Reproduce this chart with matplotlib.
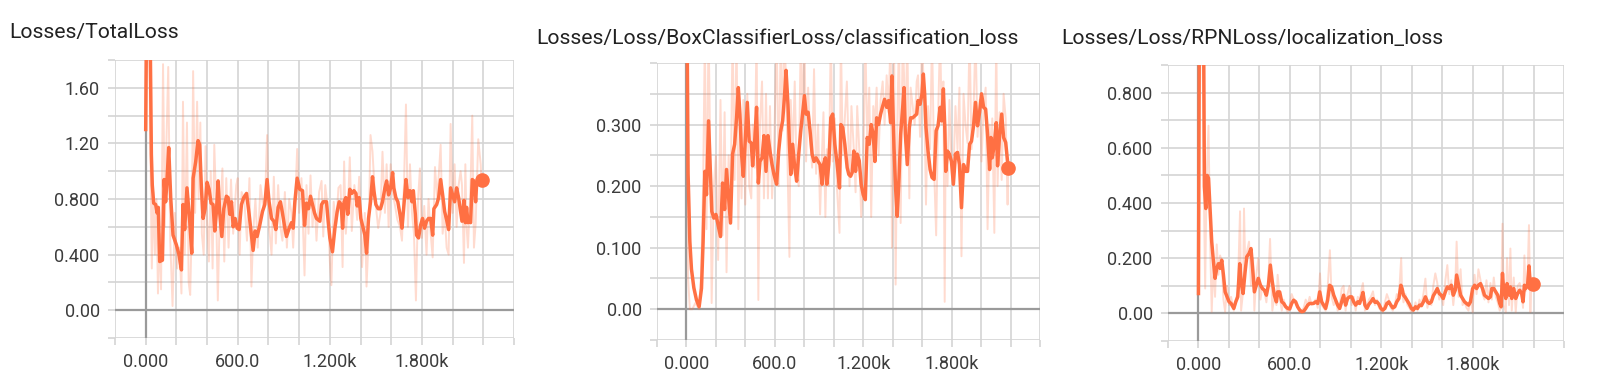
import matplotlib
matplotlib.use('Agg')

import matplotlib.pyplot as plt
from matplotlib.ticker import FixedLocator, FixedFormatter
import numpy as np

plt.rcParams['font.family'] = ['Roboto', 'DejaVu Sans']

#-- data (step, value) --#
total_smooth = [(0,1.30),(9,2.60),(22,2.20),(30,1.90),(37,1.12),(43,0.90),(52,0.77),(65,0.76),(74,0.70),(82,0.74),
    (91,0.35),(109,0.36),(120,0.94),(130,0.78),(139,0.94),(150,1.17),(163,0.81),(178,0.54),(200,0.47),(217,0.40),
    (233,0.29),(243,0.76),(254,0.58),(269,0.88),(287,0.64),(300,0.41),(309,0.95),(326,1.07),(341,1.22),(352,1.19),
    (363,0.88),(374,0.66),(387,0.73),(400,0.92),(413,0.87),(426,0.77),(439,0.76),(450,0.57),(461,0.71),(472,0.93),
    (483,0.69),(496,0.53),(509,0.73),(526,0.82),(537,0.81),(548,0.69),(559,0.78),(570,0.60),(583,0.66),(596,0.59),
    (609,0.58),(624,0.76),(639,0.81),(657,0.84),(674,0.69),(689,0.54),(700,0.43),(713,0.57),(726,0.53),(743,0.61),
    (761,0.71),(776,0.76),(791,0.94),(804,0.78),(820,0.66),(835,0.64),(848,0.58),(863,0.74),(878,0.78),(891,0.70),
    (907,0.59),(917,0.53),(935,0.59),(950,0.63),(961,0.59),(972,0.78),(987,0.95),(1004,0.87),(1022,0.86),(1035,0.61),
    (1048,0.77),(1061,0.73),(1074,0.82),(1087,0.76),(1100,0.70),(1113,0.66),(1135,0.64),(1146,0.76),(1157,0.78),(1178,0.78),
    (1189,0.64),(1200,0.52),(1217,0.42),(1233,0.59),(1248,0.71),(1261,0.78),(1274,0.76),(1283,0.59),(1293,0.78),(1304,0.81),
    (1317,0.69),(1330,0.87),(1343,0.84),(1357,0.86),(1370,0.84),(1378,0.75),(1391,0.81),(1402,0.66),(1417,0.59),(1428,0.54),
    (1439,0.41),(1452,0.66),(1465,0.78),(1478,0.96),(1487,0.86),(1500,0.76),(1515,0.73),(1530,0.73),(1543,0.78),(1559,0.88),
    (1570,0.93),(1583,0.83),(1596,0.88),(1609,0.99),(1617,0.88),(1630,0.81),(1643,0.78),(1657,0.69),(1670,0.59),(1683,0.76),
    (1696,0.94),(1709,0.81),(1722,0.86),(1735,0.78),(1744,0.86),(1757,0.69),(1765,0.54),(1778,0.52),(1791,0.61),(1804,0.66),
    (1817,0.59),(1830,0.64),(1843,0.66),(1857,0.66),(1870,0.54),(1878,0.73),(1896,0.76),(1909,0.81),(1922,0.94),(1935,0.83),
    (1948,0.71),(1961,0.65),(1974,0.58),(1987,0.88),(2000,0.83),(2013,0.78),(2026,0.88),(2039,0.81),(2052,0.71),(2061,0.64),
    (2074,0.79),(2083,0.63),(2091,0.74),(2100,0.63),(2109,0.64),(2117,0.63),(2128,0.94),(2139,0.93),(2150,0.78),(2157,0.92),
    (2167,0.93),(2183,0.94),(2189,0.94)]

total_raw = [(0,1.30),(10,3.0),(20,2.4),(30,1.2),(40,0.30),(50,0.85),(60,0.40),(70,0.80),(80,0.12),(90,0.55),
    (100,0.15),(113,1.77),(125,0.60),(135,1.20),(147,1.75),(160,0.50),(175,0.03),(190,0.70),(205,0.30),(220,0.45),
    (233,0.12),(243,1.50),(255,0.40),(269,1.35),(280,0.20),(290,0.11),(300,0.60),(309,1.72),(322,0.70),(335,1.50),
    (345,0.80),(356,1.35),(366,0.55),(378,0.40),(390,1.18),(400,0.65),(412,0.35),(424,1.00),(436,0.30),(447,1.19),
    (458,0.80),(470,0.07),(481,0.60),(500,1.02),(512,0.35),(525,0.95),(540,0.45),(556,0.94),(570,0.55),(590,0.90),
    (600,0.95),(612,0.40),(625,0.85),(642,0.80),(660,0.50),(676,0.95),(689,0.17),(700,0.55),(715,0.80),(730,0.45),
    (748,0.90),(765,0.75),(778,0.80),(791,1.26),(804,0.60),(820,0.40),(835,0.96),(848,0.48),(863,0.90),(878,0.60),
    (891,0.50),(907,0.85),(920,0.45),(935,0.80),(950,0.70),(961,0.45),(975,0.80),(987,1.16),(1000,0.70),(1015,0.95),
    (1035,0.25),(1048,0.90),(1061,0.55),(1074,0.97),(1087,0.60),(1100,0.80),(1113,0.50),(1130,0.85),(1146,0.93),(1157,0.53),
    (1170,0.90),(1189,0.70),(1200,0.35),(1210,0.18),(1225,0.78),(1240,0.60),(1256,0.88),(1270,0.90),(1283,0.31),(1293,1.07),
    (1304,0.55),(1320,0.80),(1330,1.10),(1343,0.57),(1360,0.90),(1378,0.65),(1391,0.96),(1410,0.31),(1428,0.70),(1439,0.17),
    (1452,0.50),(1465,1.26),(1478,1.14),(1495,0.80),(1515,0.59),(1530,0.70),(1543,1.14),(1559,0.70),(1570,1.05),(1583,0.60),
    (1596,1.05),(1609,0.85),(1625,0.75),(1640,0.65),(1657,0.60),(1670,0.50),(1683,0.90),(1696,1.48),(1709,0.60),(1722,1.05),
    (1735,0.70),(1748,0.55),(1761,0.07),(1775,0.80),(1787,1.02),(1800,0.52),(1815,0.75),(1830,0.40),(1843,0.80),(1857,0.55),
    (1870,0.38),(1885,1.03),(1900,0.80),(1922,1.19),(1935,0.55),(1948,0.70),(1961,0.45),(1974,0.40),(1987,1.34),(2000,0.70),
    (2013,1.05),(2026,0.60),(2039,0.90),(2052,1.00),(2061,0.90),(2074,0.34),(2083,1.05),(2091,0.60),(2100,0.45),(2117,0.90),
    (2128,1.40),(2139,0.45),(2150,0.62),(2167,1.23),(2183,1.05),(2189,0.90)]

cls_smooth = [(0,0.62),(11,0.22),(23,0.11),(34,0.065),(50,0.035),(68,0.015),(86,0.004),(102,0.034),(113,0.11),(125,0.224),
    (136,0.186),(150,0.306),(159,0.246),(172,0.159),(186,0.148),(200,0.154),(215,0.137),(231,0.118),(245,0.205),(259,0.162),
    (272,0.227),(286,0.181),(299,0.14),(313,0.252),(327,0.268),(340,0.311),(352,0.36),(363,0.317),(374,0.252),(386,0.216),
    (399,0.273),(413,0.336),(426,0.273),(440,0.27),(449,0.233),(463,0.273),(476,0.328),(488,0.205),(499,0.24),(513,0.246),
    (526,0.282),(540,0.224),(553,0.282),(567,0.257),(581,0.235),(594,0.219),(612,0.203),(626,0.257),(640,0.29),(653,0.306),
    (665,0.344),(676,0.388),(689,0.333),(699,0.268),(708,0.219),(721,0.268),(735,0.23),(748,0.208),(762,0.252),(776,0.29),
    (789,0.32),(801,0.347),(812,0.317),(826,0.32),(839,0.29),(853,0.252),(866,0.24),(880,0.246),(894,0.24),(907,0.235),
    (921,0.203),(930,0.235),(943,0.246),(953,0.203),(966,0.235),(980,0.311),(993,0.317),(1007,0.268),(1021,0.24),(1039,0.197),
    (1048,0.30),(1061,0.295),(1075,0.268),(1091,0.23),(1102,0.219),(1114,0.216),(1125,0.222),(1136,0.257),(1148,0.224),(1159,0.252),
    (1173,0.241),(1186,0.203),(1200,0.186),(1214,0.178),(1227,0.279),(1241,0.268),(1254,0.30),(1268,0.284),(1279,0.24),(1291,0.311),
    (1304,0.30),(1318,0.317),(1332,0.33),(1345,0.341),(1359,0.328),(1372,0.339),(1386,0.303),(1395,0.379),(1409,0.262),(1420,0.195),
    (1431,0.151),(1443,0.214),(1454,0.284),(1468,0.328),(1477,0.36),(1486,0.284),(1499,0.235),(1513,0.295),(1522,0.311),(1536,0.311),
    (1549,0.314),(1563,0.317),(1572,0.339),(1586,0.333),(1599,0.35),(1608,0.382),(1617,0.35),(1626,0.295),(1640,0.257),(1654,0.227),
    (1667,0.214),(1681,0.211),(1695,0.29),(1708,0.298),(1722,0.328),(1733,0.306),(1744,0.358),(1753,0.30),(1760,0.224),(1772,0.257),
    (1785,0.252),(1799,0.24),(1812,0.203),(1826,0.252),(1840,0.255),(1853,0.235),(1867,0.165),(1881,0.235),(1894,0.224),(1908,0.224),
    (1922,0.268),(1935,0.273),(1949,0.298),(1962,0.336),(1976,0.298),(1990,0.32),(2003,0.35),(2017,0.328),(2031,0.325),(2044,0.284),
    (2058,0.227),(2067,0.279),(2076,0.246),(2090,0.268),(2103,0.303),(2112,0.233),(2126,0.284),(2140,0.317),(2153,0.279),(2167,0.271),
    (2184,0.23)]

cls_raw = [(0,0.70),(11,0.05),(23,0.0),(40,0.0),(60,0.01),(86,0.0),(100,0.06),(113,0.20),(125,0.45),(136,0.13),
    (150,0.46),(160,0.28),(171,0.01),(186,0.20),(200,0.25),(215,0.08),(231,0.34),(245,0.12),(259,0.32),(272,0.06),
    (286,0.25),(299,0.17),(313,0.45),(327,0.21),(340,0.45),(352,0.13),(363,0.29),(374,0.18),(386,0.34),(399,0.17),
    (413,0.35),(426,0.20),(440,0.18),(449,0.30),(463,0.23),(476,0.45),(488,0.015),(499,0.30),(513,0.37),(526,0.18),
    (540,0.35),(553,0.18),(567,0.33),(581,0.18),(594,0.25),(612,0.45),(626,0.20),(640,0.45),(653,0.29),(665,0.45),
    (676,0.37),(689,0.20),(699,0.085),(708,0.34),(721,0.25),(735,0.37),(748,0.22),(762,0.20),(776,0.45),(789,0.30),
    (801,0.45),(812,0.24),(826,0.36),(839,0.28),(853,0.23),(866,0.39),(880,0.22),(894,0.30),(907,0.154),(921,0.26),
    (930,0.32),(943,0.15),(953,0.26),(966,0.20),(980,0.45),(993,0.24),(1007,0.31),(1021,0.20),(1039,0.124),(1048,0.45),
    (1061,0.25),(1075,0.31),(1089,0.37),(1107,0.20),(1120,0.33),(1136,0.26),(1148,0.19),(1159,0.33),(1173,0.26),(1186,0.15),
    (1200,0.22),(1214,0.45),(1227,0.27),(1241,0.36),(1254,0.15),(1268,0.33),(1279,0.30),(1291,0.36),(1304,0.25),(1318,0.34),
    (1332,0.37),(1345,0.30),(1359,0.38),(1372,0.32),(1386,0.45),(1395,0.10),(1409,0.45),(1420,0.04),(1431,0.30),(1443,0.45),
    (1454,0.14),(1468,0.45),(1477,0.38),(1486,0.27),(1499,0.45),(1513,0.18),(1522,0.36),(1536,0.33),(1549,0.30),(1563,0.37),
    (1572,0.38),(1586,0.28),(1599,0.45),(1608,0.38),(1617,0.30),(1626,0.17),(1640,0.33),(1654,0.26),(1667,0.45),(1681,0.23),
    (1695,0.12),(1708,0.31),(1722,0.45),(1733,0.30),(1744,0.37),(1753,0.012),(1760,0.30),(1772,0.20),(1785,0.34),(1799,0.24),
    (1812,0.22),(1826,0.33),(1840,0.26),(1853,0.36),(1867,0.086),(1881,0.35),(1894,0.30),(1908,0.27),(1922,0.45),(1935,0.26),
    (1949,0.32),(1962,0.45),(1976,0.28),(1990,0.34),(2003,0.24),(2017,0.33),(2031,0.36),(2044,0.13),(2058,0.30),(2067,0.23),
    (2076,0.31),(2090,0.124),(2103,0.45),(2112,0.20),(2126,0.32),(2140,0.21),(2153,0.35),(2167,0.31),(2180,0.17),(2184,0.23)]

rpn_smooth = [(0,0.072),(8,1.4),(20,1.2),(35,0.90),(39,0.46),(48,0.38),(57,0.50),(66,0.49),(77,0.37),(87,0.26),
    (98,0.19),(109,0.127),(120,0.163),(131,0.18),(142,0.163),(153,0.193),(164,0.139),(175,0.078),(188,0.06),(201,0.042),
    (214,0.036),(232,0.018),(245,0.042),(258,0.06),(271,0.18),(280,0.114),(293,0.072),(306,0.15),(317,0.205),(332,0.217),
    (345,0.235),(359,0.139),(367,0.078),(380,0.102),(393,0.127),(407,0.102),(420,0.09),(433,0.084),(446,0.066),(459,0.102),
    (472,0.175),(485,0.114),(498,0.066),(512,0.042),(520,0.078),(533,0.078),(547,0.042),(560,0.036),(573,0.024),(586,0.018),
    (599,0.016),(612,0.036),(625,0.048),(638,0.042),(651,0.024),(665,0.012),(678,0.006),(691,0.008),(704,0.018),(717,0.03),
    (730,0.036),(743,0.036),(756,0.036),(769,0.042),(783,0.036),(796,0.078),(809,0.042),(822,0.03),(835,0.018),(848,0.048),
    (861,0.102),(874,0.096),(888,0.066),(901,0.048),(914,0.03),(927,0.018),(940,0.042),(953,0.066),(966,0.03),(979,0.054),
    (992,0.06),(1006,0.06),(1019,0.042),(1032,0.03),(1046,0.042),(1058,0.036),(1072,0.06),(1080,0.076),(1093,0.03),(1106,0.018),
    (1119,0.033),(1132,0.042),(1146,0.054),(1159,0.04),(1172,0.042),(1185,0.033),(1198,0.018),(1211,0.012),(1224,0.018),(1237,0.036),
    (1250,0.042),(1263,0.03),(1276,0.02),(1289,0.024),(1302,0.042),(1316,0.054),(1329,0.102),(1337,0.09),(1346,0.066),(1359,0.057),
    (1372,0.045),(1385,0.033),(1398,0.018),(1411,0.012),(1425,0.024),(1438,0.018),(1451,0.03),(1464,0.028),(1477,0.042),(1490,0.06),
    (1503,0.042),(1516,0.036),(1529,0.042),(1542,0.064),(1555,0.076),(1568,0.09),(1581,0.072),(1594,0.066),(1607,0.054),(1621,0.078),
    (1634,0.096),(1647,0.09),(1660,0.102),(1673,0.066),(1686,0.084),(1695,0.139),(1708,0.102),(1721,0.066),(1734,0.054),(1747,0.042),
    (1760,0.036),(1773,0.03),(1786,0.042),(1800,0.09),(1813,0.102),(1826,0.09),(1838,0.102),(1852,0.108),(1865,0.09),(1878,0.066),
    (1891,0.06),(1904,0.054),(1917,0.06),(1926,0.09),(1939,0.09),(1952,0.078),(1965,0.066),(1978,0.036),(1987,0.024),(1996,0.145),
    (2004,0.084),(2018,0.054),(2026,0.108),(2039,0.066),(2048,0.096),(2057,0.054),(2070,0.09),(2083,0.054),(2096,0.072),(2109,0.084),
    (2122,0.072),(2131,0.042),(2140,0.102),(2148,0.09),(2161,0.102),(2170,0.172),(2179,0.102),(2187,0.114),(2196,0.105)]

rpn_raw = [(0,0.072),(8,1.6),(18,1.2),(27,0.95),(35,0.45),(44,0.09),(53,0.48),(66,0.68),(77,0.25),(87,0.006),
    (98,0.18),(109,0.06),(120,0.25),(131,0.14),(142,0.21),(153,0.19),(164,0.05),(175,0.006),(188,0.10),(201,0.03),
    (214,0.06),(232,0.01),(245,0.05),(258,0.08),(273,0.37),(280,0.01),(293,0.08),(299,0.38),(306,0.20),(317,0.22),
    (332,0.26),(345,0.10),(359,0.20),(367,0.01),(380,0.14),(393,0.20),(407,0.05),(420,0.10),(433,0.08),(446,0.04),
    (459,0.12),(470,0.27),(485,0.01),(498,0.06),(512,0.03),(520,0.14),(533,0.06),(547,0.01),(560,0.05),(573,0.02),
    (586,0.005),(599,0.03),(612,0.07),(625,0.05),(638,0.04),(651,0.02),(665,0.005),(678,0.01),(691,0.02),(704,0.05),
    (717,0.03),(730,0.06),(743,0.03),(756,0.04),(769,0.05),(783,0.02),(798,0.145),(809,0.03),(822,0.02),(835,0.01),
    (848,0.09),(863,0.229),(874,0.06),(888,0.03),(901,0.05),(914,0.01),(927,0.02),(940,0.09),(953,0.10),(966,0.01),
    (979,0.07),(992,0.10),(1006,0.03),(1019,0.06),(1032,0.01),(1046,0.06),(1058,0.05),(1072,0.09),(1080,0.11),(1093,0.01),
    (1106,0.02),(1119,0.05),(1132,0.06),(1146,0.08),(1159,0.03),(1172,0.05),(1185,0.02),(1198,0.01),(1211,0.005),(1224,0.04),
    (1237,0.07),(1250,0.05),(1263,0.02),(1276,0.01),(1289,0.03),(1302,0.07),(1316,0.06),(1331,0.20),(1337,0.08),(1346,0.04),
    (1359,0.07),(1372,0.03),(1385,0.02),(1398,0.005),(1411,0.01),(1425,0.04),(1438,0.01),(1451,0.05),(1464,0.03),(1477,0.07),
    (1490,0.126),(1503,0.02),(1516,0.05),(1529,0.03),(1542,0.10),(1555,0.145),(1568,0.11),(1581,0.05),(1594,0.07),(1607,0.03),
    (1621,0.12),(1634,0.175),(1647,0.07),(1660,0.12),(1673,0.03),(1686,0.10),(1695,0.26),(1708,0.06),(1721,0.16),(1734,0.03),
    (1747,0.04),(1760,0.02),(1773,0.01),(1786,0.06),(1800,0.005),(1813,0.14),(1826,0.07),(1838,0.16),(1852,0.12),(1865,0.07),
    (1878,0.05),(1891,0.12),(1904,0.04),(1917,0.11),(1926,0.05),(1939,0.13),(1952,0.06),(1965,0.04),(1978,0.01),(1987,0.02),
    (1996,0.325),(2004,0.03),(2018,0.005),(2026,0.20),(2039,0.03),(2048,0.235),(2057,0.01),(2070,0.13),(2083,0.005),(2096,0.10),
    (2109,0.11),(2122,0.07),(2131,0.02),(2140,0.21),(2148,0.08),(2161,0.14),(2170,0.32),(2179,0.005),(2187,0.13),(2196,0.10)]

titles = ['Losses/TotalLoss',
          'Losses/Loss/BoxClassifierLoss/classification_loss',
          'Losses/Loss/RPNLoss/localization_loss']
x_ticks = [0, 600, 1200, 1800]
x_labels = ['0.000', '600.0', '1.200k', '1.800k']
y_ticks = [[0, 0.4, 0.8, 1.2, 1.6], [0, 0.1, 0.2, 0.3], [0, 0.2, 0.4, 0.6, 0.8]]
y_labels = [['0.00', '0.400', '0.800', '1.20', '1.60'],
            ['0.00', '0.100', '0.200', '0.300'],
            ['0.00', '0.200', '0.400', '0.600', '0.800']]

#-- layout (pixels of a 1600x382 canvas) --#
W, H = 1600., 382.
boxes = [(115, 60, 514, 338), (657, 63, 1040, 340), (1168, 65, 1564, 341)]
ylims = [(-0.2, 1.8), (-0.05, 0.4), (-0.1, 0.9)]
ysteps = [0.2, 0.05, 0.1]
title_pos = [(9, 38), (536, 44), (1061, 44)]

ORANGE = '#ff7043'
GRID = '#d4d4d4'
AXIS = '#9a9a9a'

fig = plt.figure(figsize=(16, 3.82), dpi=100)

series = [(total_raw, total_smooth), (cls_raw, cls_smooth), (rpn_raw, rpn_smooth)]
for i in range(3):
    x0, y0, x1, y1 = boxes[i]
    ax = fig.add_axes([x0 / W, 1 - y1 / H, (x1 - x0) / W, (y1 - y0) / H])
    ax.set_xlim(-200, 2400)
    ax.set_ylim(*ylims[i])
    for s in ax.spines.values():
        s.set_visible(False)

    ax.xaxis.set_major_locator(FixedLocator(x_ticks))
    ax.xaxis.set_major_formatter(FixedFormatter(x_labels))
    ax.xaxis.set_minor_locator(FixedLocator(np.arange(-200, 2401, 200)))
    ax.yaxis.set_major_locator(FixedLocator(y_ticks[i]))
    ax.yaxis.set_major_formatter(FixedFormatter(y_labels[i]))
    lo, hi = ylims[i]
    ax.yaxis.set_minor_locator(FixedLocator(np.arange(lo, hi + 1e-9, ysteps[i])))

    ax.set_axisbelow(True)
    ax.grid(True, which='both', color=GRID, lw=1.2)
    ax.tick_params(which='both', length=5, width=1.2, color=GRID,
                   labelcolor='#3c3c3c', labelsize=13, pad=6)
    ax.axhline(0, color=AXIS, lw=1.6, zorder=1.5)
    ax.axvline(0, color=AXIS, lw=1.6, zorder=1.5)

    raw = np.array(series[i][0])
    sm = np.array(series[i][1])
    ax.plot(raw[:, 0], raw[:, 1], color=ORANGE, alpha=0.25, lw=1.4, zorder=2)
    ax.plot(sm[:, 0], sm[:, 1], color=ORANGE, lw=2.5, zorder=3)
    ax.plot(sm[-1, 0], sm[-1, 1], 'o', color=ORANGE, ms=9.5, zorder=4, clip_on=False)

    tx, ty = title_pos[i]
    fig.text(tx / W, 1 - ty / H, titles[i], fontsize=15.2, color='#212121', va='baseline')

plt.savefig('out.png', dpi=100)
